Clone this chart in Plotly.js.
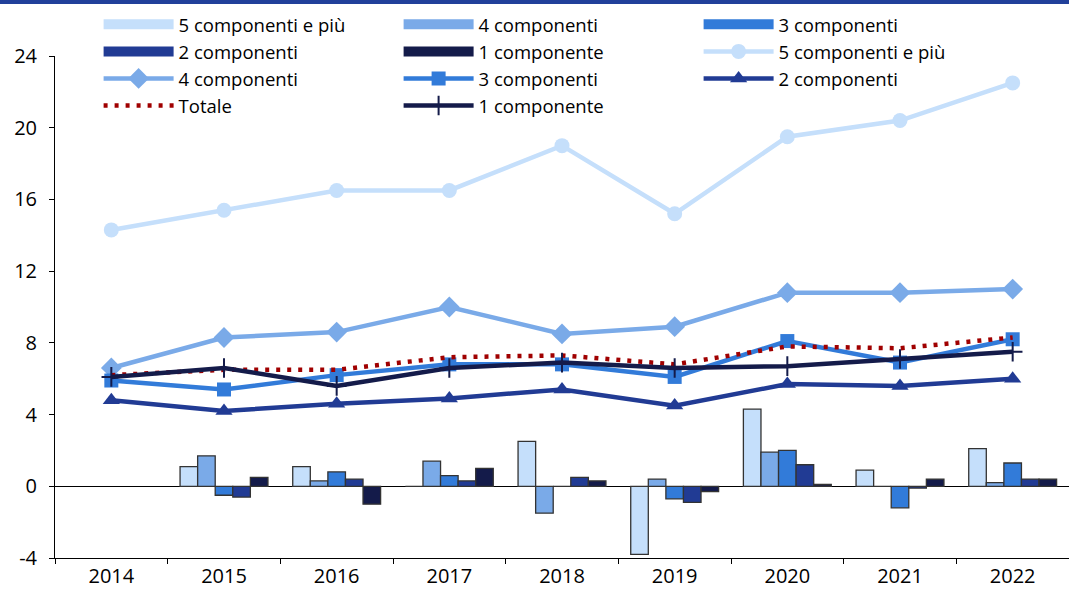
<!DOCTYPE html>
<html>
<head>
<meta charset="utf-8">
<script src="https://cdn.plot.ly/plotly-3.0.1.min.js"></script>
<style>
html,body{margin:0;padding:0;background:#fff;}
#chart{width:1069px;height:591px;}
</style>
</head>
<body>
<div id="chart"></div>
<script>
// ---- data ----
const years = ["2014","2015","2016","2017","2018","2019","2020","2021","2022"];

// annual changes (bars)
const bar5 = [null, 1.1, 1.1, 0.0, 2.5, -3.8, 4.3, 0.9, 2.1];
const bar4 = [null, 1.7, 0.3, 1.4, -1.5, 0.4, 1.9, 0.0, 0.2];
const bar3 = [null, -0.5, 0.8, 0.6, 0.0, -0.7, 2.0, -1.2, 1.3];
const bar2 = [null, -0.6, 0.4, 0.3, 0.5, -0.9, 1.2, -0.1, 0.4];
const bar1 = [null, 0.5, -1.0, 1.0, 0.3, -0.3, 0.1, 0.4, 0.4];

// levels (lines)
const line5 = [14.3, 15.4, 16.5, 16.5, 19.0, 15.2, 19.5, 20.4, 22.5];
const line4 = [6.6, 8.3, 8.6, 10.0, 8.5, 8.9, 10.8, 10.8, 11.0];
const line3 = [5.9, 5.4, 6.2, 6.8, 6.8, 6.1, 8.1, 6.9, 8.2];
const line2 = [4.8, 4.2, 4.6, 4.9, 5.4, 4.5, 5.7, 5.6, 6.0];
const totale = [6.2, 6.5, 6.5, 7.2, 7.3, 6.8, 7.8, 7.7, 8.3];
const line1 = [6.1, 6.6, 5.6, 6.6, 6.9, 6.6, 6.7, 7.1, 7.5];

const names = ["5 componenti e più","4 componenti","3 componenti","2 componenti","1 componente"];
const yTicks = [-4, 0, 4, 8, 12, 16, 20, 24];

// ---- styling ----
const colors = ["#c5dffb","#7aaae8","#327bd9","#213b94","#141b4a"];
const outline = "#333333";

const barData = [bar5, bar4, bar3, bar2, bar1];
const traces = [];

barData.forEach((vals, i) => {
  traces.push({
    type: "bar", x: years, y: vals, name: names[i],
    marker: {color: colors[i], line: {color: outline, width: 1.3}},
    showlegend: false, legendgroup: "b" + i, hoverinfo: "x+y"
  });
});
// legend entries for bars (wide rectangles like the reference)
barData.forEach((vals, i) => {
  traces.push({
    type: "scatter", mode: "lines", x: [null], y: [null], name: names[i],
    line: {color: colors[i], width: 13}, legendgroup: "b" + i, hoverinfo: "skip"
  });
});

const lineSpecs = [
  {y: line5, name: names[0], color: colors[0], symbol: "circle", size: 15},
  {y: line4, name: names[1], color: colors[1], symbol: "diamond", size: 16},
  {y: line3, name: names[2], color: colors[2], symbol: "square", size: 14},
  {y: line2, name: names[3], color: colors[3], symbol: "triangle-up", size: 15}
];
lineSpecs.forEach(s => {
  traces.push({
    type: "scatter", mode: "lines+markers", x: years, y: s.y, name: s.name,
    line: {color: s.color, width: 4.5},
    marker: {symbol: s.symbol, size: s.size, color: s.color}
  });
});
traces.push({
  type: "scatter", mode: "lines", x: years, y: totale, name: "Totale",
  line: {color: "#a00000", width: 4.5, dash: "4px,7px"}
});
traces.push({
  type: "scatter", mode: "lines+markers", x: years, y: line1, name: names[4],
  line: {color: colors[4], width: 4.5},
  marker: {symbol: "cross-thin", size: 14, line: {color: colors[4], width: 2}}
});

const font = {family: "Open Sans, Liberation Sans, Arial, sans-serif", size: 19, color: "#000"};

const layout = {
  width: 1069, height: 591,
  margin: {l: 55, r: 0, t: 56, b: 33, pad: 0},
  paper_bgcolor: "#fff", plot_bgcolor: "#fff",
  font: font,
  barmode: "group", bargap: 0.22, bargroupgap: 0,
  showlegend: true,
  legend: {
    orientation: "h", x: 0.043, y: 1.1, xanchor: "left", yanchor: "top",
    bgcolor: "rgba(0,0,0,0)", entrywidth: 215, entrywidthmode: "pixels",
    itemwidth: 70, tracegroupgap: 0, font: {size: 18.5, family: font.family, color: "#000"}
  },
  xaxis: {
    type: "category", range: [-0.5, 8.5], tickson: "boundaries",
    ticks: "outside", ticklen: 5, tickcolor: "#000", tickwidth: 1,
    showline: true, linecolor: "#000", linewidth: 1,
    showgrid: false, zeroline: false, fixedrange: true,
    tickfont: {size: 20}
  },
  yaxis: {
    range: [-4, 24], tickvals: yTicks, ticktext: yTicks.map(String),
    ticks: "outside", ticklen: 5, tickcolor: "#000", tickwidth: 1,
    showline: true, linecolor: "#000", linewidth: 1,
    showgrid: false, zeroline: true, zerolinecolor: "#000", zerolinewidth: 1,
    ticklabelstandoff: 8, tickfont: {size: 20}
  },
  shapes: [{
    type: "rect", xref: "paper", yref: "paper",
    x0: -0.06, x1: 1.01, y0: 1.1036, y1: 1.12,
    fillcolor: "#21409a", line: {width: 0}, layer: "above"
  }]
};

Plotly.newPlot("chart", traces, layout, {displayModeBar: false, staticPlot: true});
</script>
</body>
</html>
